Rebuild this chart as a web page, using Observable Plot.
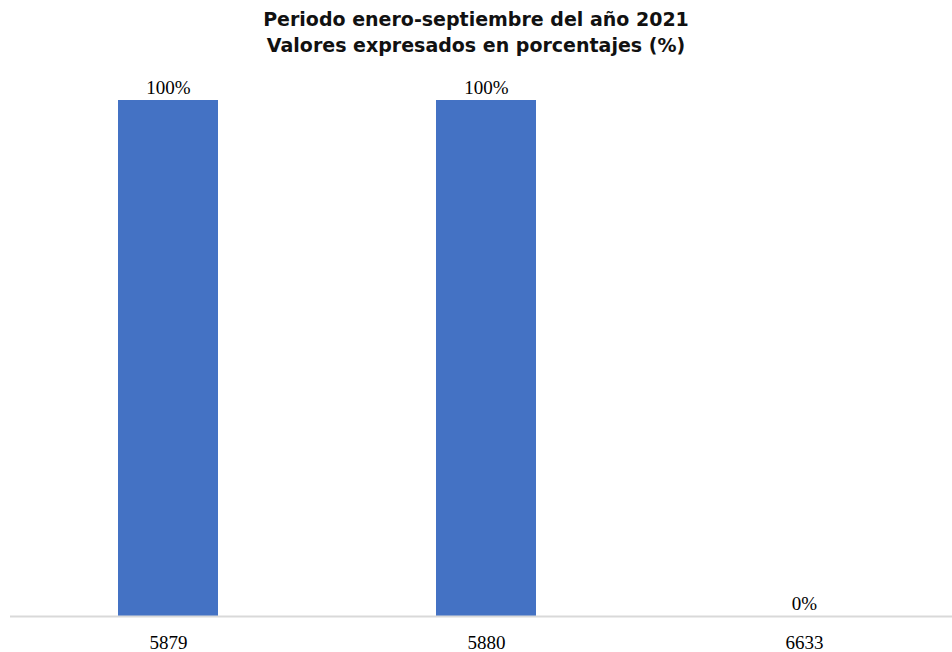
<!DOCTYPE html>
<html>
<head>
<meta charset="utf-8">
<script src="https://cdn.jsdelivr.net/npm/d3@7"></script>
<script src="https://cdn.jsdelivr.net/npm/@observablehq/plot@0.6"></script>
<style>
  html, body { margin: 0; padding: 0; background: #fff; }
  #title { height: 62px; box-sizing: border-box; padding-top: 6px; text-align: center;
    font-family: "DejaVu Sans", sans-serif; font-weight: bold; font-size: 19px; line-height: 26px; color: #111; }
</style>
</head>
<body>
<div id="title">Periodo enero-septiembre del año 2021<br>Valores expresados en porcentajes (%)</div>
<div id="chart"></div>
<script>
const categories = ["5879", "5880", "6633"];
const values = [100, 100, 0];
const labels = ["100%", "100%", "0%"];

const data = categories.map((c, i) => ({cat: c, value: values[i], label: labels[i]}));

const chart = Plot.plot({
  width: 952,
  height: 590,
  marginTop: 38,
  marginBottom: 36,
  marginLeft: 10,
  marginRight: 0,
  style: {fontFamily: "'Liberation Serif', serif", fontSize: "19px", color: "#000", background: "#fff"},
  x: {domain: categories, range: [9, 963], paddingInner: 0.686, paddingOuter: 0.343, label: null, tickSize: 0, tickPadding: 19},
  y: {domain: [0, 100], axis: null},
  marks: [
    Plot.barY(data, {x: "cat", y: "value", fill: "#4472C4"}),
    Plot.ruleY([0], {stroke: "#d9d9d9", strokeWidth: 2}),
    Plot.text(data, {x: "cat", y: "value", text: "label", dy: -13, fontSize: 19, fill: "#000"})
  ]
});
document.getElementById("chart").appendChild(chart);
</script>
</body>
</html>
